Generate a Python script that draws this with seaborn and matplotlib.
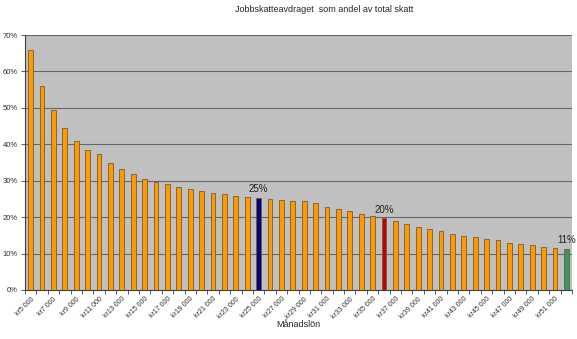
import matplotlib
matplotlib.use("Agg")
import matplotlib.pyplot as plt
import seaborn as sns
import pandas as pd
from matplotlib.ticker import FixedLocator

# Monthly salary (kr) and the job tax deduction as a share of total tax (%)
salaries = list(range(5000, 53000, 1000))
share = [65.9, 55.9, 49.4, 44.5, 41.0, 38.4, 37.2, 34.8, 33.1, 31.8,
         30.6, 29.7, 29.0, 28.3, 27.6, 27.1, 26.7, 26.4, 25.9, 25.5,
         25.3, 25.0, 24.7, 24.4, 24.3, 23.9, 22.9, 22.3, 21.6, 20.9,
         20.3, 19.7, 19.0, 18.2, 17.4, 16.7, 16.1, 15.5, 14.9, 14.5,
         14.0, 13.6, 13.0, 12.6, 12.3, 11.9, 11.5, 11.3]
highlight = {25000: "#000080", 36000: "#C00000", 52000: "#339966"}
base_color = "#FF9900"

labels = ["kr" + f"{s:,}".replace(",", " ") for s in salaries]
colors = [highlight.get(s, base_color) for s in salaries]

df = pd.DataFrame({"label": labels, "share": share})

sns.set_style("white")
plt.rcParams["font.family"] = ["Liberation Sans", "DejaVu Sans"]

fig = plt.figure(figsize=(5.77, 3.39), dpi=100)
ax = fig.add_axes([25 / 577, 1 - 290 / 339, 547 / 577, 255 / 339])
ax.set_facecolor("#C0C0C0")

sns.barplot(data=df, x="label", y="share", hue="label", palette=colors,
            legend=False, width=0.42, edgecolor="#7A5A30", linewidth=0.6,
            saturation=1, ax=ax, zorder=3)

ax.set_ylim(0, 70)
ax.set_xlim(-0.5, len(salaries) - 0.5)
ax.set_yticks(range(0, 71, 10))
ax.set_yticklabels([f"{v}%" for v in range(0, 71, 10)], fontsize=5.5,
                   color="#303030")
ax.yaxis.grid(True, color="#666666", linewidth=0.8, zorder=1)
ax.xaxis.grid(False)

# Every other category label, rotated
ax.set_xticks(range(0, len(salaries), 2))
ax.set_xticklabels(labels[::2], rotation=45, ha="right",
                   rotation_mode="anchor", fontsize=5, color="#303030")
ax.xaxis.set_minor_locator(FixedLocator([i - 0.5 for i in range(len(salaries) + 1)]))
ax.tick_params(axis="x", which="major", length=0, pad=4)
ax.tick_params(axis="x", which="minor", length=3, color="#404040", width=0.6)
ax.tick_params(axis="y", length=3, color="#404040", width=0.6, pad=2)
ax.xaxis.set_ticks_position("bottom")
ax.yaxis.set_ticks_position("left")

for side in ["top", "right"]:
    ax.spines[side].set_visible(False)
for side in ["left", "bottom"]:
    ax.spines[side].set_color("#404040")
    ax.spines[side].set_linewidth(0.8)

ax.set_xlabel("Månadslön", fontsize=6.5, labelpad=0)
ax.set_ylabel("")

# Value labels over highlighted bars
for i, s in enumerate(salaries):
    if s in highlight:
        ax.text(i, share[i] + 1.0, f"{round(share[i])}%", ha="center",
                va="bottom", fontsize=7, color="#202020", zorder=4)

fig.text(324 / 577, 1 - 9 / 339, "Jobbskatteavdraget  som andel av total skatt",
         ha="center", va="center", fontsize=6.5)

fig.savefig("out.png", dpi=100)
